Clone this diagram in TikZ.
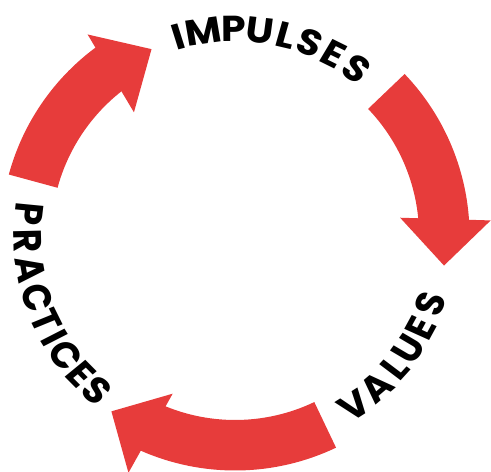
\documentclass[tikz,border=0pt]{standalone}
\usepackage{fontspec}
\newfontfamily\lblfont{Poppins}
\usetikzlibrary{calc}
\definecolor{cyclered}{RGB}{231,60,59}

\newcommand\lblstyle{\lblfont\bfseries\fontsize{36pt}{42pt}\selectfont}

\tikzset{
  band/.style={fill=cyclered},
  head/.style={fill=cyclered},
  letter/.style={font=\lblstyle, inner sep=0pt, anchor=center, text=black, xscale=1.1},
}

% Curved arrow on the ring (inner radius 184, outer 234.5), running clockwise.
% #1 name, #2 tail angle, #3 angle of the head's base, #4 angle of the tip, #5 radius of the head
\newcommand\cyclearrow[5]{%
  \pgfmathsetmacro\bandend{#3 - 2}%
  \fill[band] (#2:234.5) arc[start angle=#2, end angle=\bandend, radius=234.5]
    -- (\bandend:184) arc[start angle=\bandend, end angle=#2, radius=184] -- cycle;
  \coordinate (#1-base) at (#3:#5);
  \coordinate (#1-tip) at (#4:#5);
  \fill[head] ($(#1-base)!45.3pt!90:(#1-tip)$) -- (#1-tip)
    -- ($(#1-base)!45.3pt!-90:(#1-tip)$) -- cycle;
}

\begin{document}
\begin{tikzpicture}[x=1pt, y=1pt]
  \useasboundingbox (-235.1,-236) rectangle (255.9,236);

  % arrows: impulses -> values -> practices -> impulses
  \cyclearrow{toval}{43.7}{4.6}{-8.05}{211}
  \cyclearrow{toprac}{295.5}{246.8}{234.8}{214.6}
  \cyclearrow{toimp}{164.8}{127.4}{114.1}{204.7}

  % top label, read clockwise, letters facing outward
  \foreach \ch/\ang [count=\i] in {I/105.95, M/98.9, P/90.4, U/83.1, L/75.6, S/68.9, E/61.5, S/54.05}
    \node[letter, rotate=\ang-90] (impulses-\i) at (\ang:207) {\ch};

  % lower labels, read anticlockwise, letters facing the centre
  \foreach \ch/\ang [count=\i] in {V/-54.9, A/-46.8, L/-39.7, U/-33.0, E/-26.4, S/-19.2}
    \node[letter, rotate=\ang+90] (values-\i) at (\ang:207) {\ch};
  \foreach \ch/\ang [count=\i] in {P/173.85, R/181.45, A/189.25, C/197.35, T/204.25, I/209.35, C/215.2, E/222.05, S/228.1}
    \node[letter, rotate=\ang+90] (practices-\i) at (\ang:207) {\ch};
\end{tikzpicture}
\end{document}
